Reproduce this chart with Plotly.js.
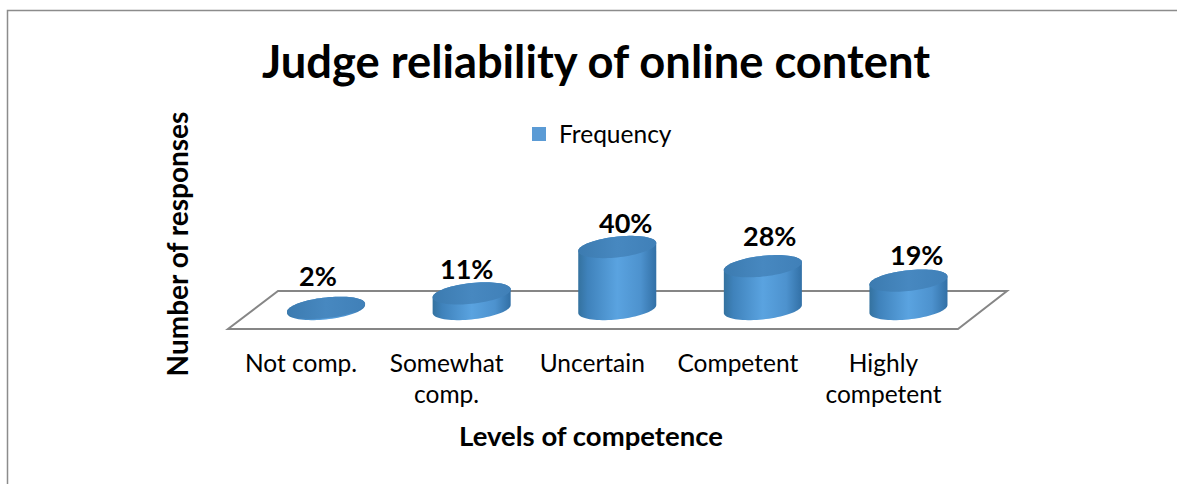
<!DOCTYPE html>
<html>
<head>
<meta charset="utf-8">
<script src="https://cdn.plot.ly/plotly-3.0.1.min.js"></script>
<style>html,body{margin:0;padding:0;background:#fff;overflow:hidden}#chart{width:1177px;height:484px}</style>
</head>
<body>
<div id="chart"></div>
<script>
const categories = ["Not comp.", "Somewhat<br>comp.", "Uncertain", "Competent", "Highly<br>competent"];
const frequency = [2, 11, 40, 28, 19];
const seriesName = "Frequency";
const chartTitle = "Judge reliability of online content";
const xTitle = "Levels of competence";
const yTitle = "Number of responses";

const W = 1177, H = 484;
const plot = {l: 200, r: 982, t: 159, b: 329};
const px = x => (x - plot.l) / (plot.r - plot.l);
const py = y => (plot.b - y) / (plot.b - plot.t);

const FONT = "Lato, Carlito, sans-serif";
const xs = categories.map((_, i) => i);

// Cylinder geometry in axis units
const depthShift = 0.172, halfW = 0.268, capB = 6.5, shear = 2.5, baseLift = 1.25;
const labelDx = [-8, -5, 8, 7, 8];
const labelDy = [22, 15, 14, 20, 16];

const bodyScale = [[0,'#34729f'],[0.12,'#3f82bb'],[0.5,'#5aa3e0'],[0.8,'#4d92ce'],[1,'#3270a6']];
const capScale  = [[0,'#3c7bb0'],[0.5,'#4788c0'],[1,'#4080b8']];

function arc(cx, cy, t0, t1, n) {
  const X = [], Y = [];
  for (let k = 0; k <= n; k++) {
    const t = t0 + (t1 - t0) * k / n;
    X.push(cx + halfW * Math.cos(t));
    Y.push(cy + capB * Math.sin(t) + shear * Math.cos(t));
  }
  return [X, Y];
}

const traces = [{
  type: 'bar', x: xs, y: frequency, name: seriesName, width: 0.26, offset: depthShift - 0.13,
  marker: {color: '#5b9bd5', line: {color: '#5b9bd5', width: 2}}, showlegend: true, hoverinfo: 'x+y'
}];

frequency.forEach((v, i) => {
  const cx = i + depthShift;
  const lower = arc(cx, baseLift, Math.PI, 2 * Math.PI, 40);
  const upper = arc(cx, Math.max(v, baseLift), 0, Math.PI, 40);
  traces.push({
    type: 'scatter', mode: 'none', fill: 'toself', showlegend: false, hoverinfo: 'skip',
    x: lower[0].concat(upper[0]), y: lower[1].concat(upper[1]),
    fillgradient: {type: 'horizontal', colorscale: bodyScale, start: cx - halfW, stop: cx + halfW}
  });
  const cap = arc(cx, v, 0, 2 * Math.PI, 80);
  traces.push({
    type: 'scatter', mode: 'none', fill: 'toself', showlegend: false, hoverinfo: 'skip',
    x: cap[0], y: cap[1],
    fillgradient: {type: 'horizontal', colorscale: capScale, start: cx - halfW, stop: cx + halfW}
  });
});

const annotations = frequency.map((v, i) => ({
  x: i + depthShift, y: v + capB, xref: 'x', yref: 'y', text: v + '%', showarrow: false,
  xshift: labelDx[i], yshift: labelDy[i], xanchor: 'center', yanchor: 'middle',
  font: {family: FONT, size: 27, color: '#000', weight: 700}
}));

const gray = '#868686';
const shapes = [
  {type: 'path', xref: 'paper', yref: 'paper', layer: 'below',
   path: `M${px(7.5)},${py(484)} L${px(7.5)},${py(10.5)} L${px(1177)},${py(10.5)}`,
   line: {color: '#8c8c8c', width: 1.5}},
  {type: 'path', xref: 'paper', yref: 'paper', layer: 'below',
   path: `M${px(278)},${py(291)} L${px(1007)},${py(291)} L${px(958)},${py(329)} L${px(228)},${py(329)} Z`,
   line: {color: gray, width: 2}}
];

const layout = {
  width: W, height: H, autosize: false,
  paper_bgcolor: '#fff', plot_bgcolor: 'rgba(0,0,0,0)',
  margin: {l: plot.l, r: W - plot.r, t: plot.t, b: H - plot.b, pad: 0},
  title: {text: chartTitle, x: 596 / W, xref: 'container', xanchor: 'center',
          y: 1 - 62 / H, yref: 'container', yanchor: 'middle',
          font: {family: FONT, size: 45.3, color: '#000', weight: 700}},
  xaxis: {type: 'linear', range: [-0.6937, 4.677], tickmode: 'array', tickvals: xs, ticktext: categories,
          showgrid: false, zeroline: false, showline: false, ticks: '', ticklabelstandoff: 17,
          tickfont: {family: FONT, size: 24.5, color: '#000'},
          title: {text: xTitle, standoff: 19, font: {family: FONT, size: 27.5, color: '#000', weight: 700}}},
  yaxis: {range: [-11.25, 95], showgrid: false, zeroline: false, showline: false, showticklabels: false, ticks: '',
          title: {text: yTitle, standoff: 2, font: {family: FONT, size: 28, color: '#000', weight: 700}}},
  legend: {x: px(598), y: py(134), xanchor: 'center', yanchor: 'middle', orientation: 'h',
           bgcolor: 'rgba(0,0,0,0)', font: {family: FONT, size: 24.5, color: '#000'}},
  annotations, shapes, showlegend: true
};

Plotly.newPlot('chart', traces, layout, {displayModeBar: false, responsive: false});
</script>
</body>
</html>
